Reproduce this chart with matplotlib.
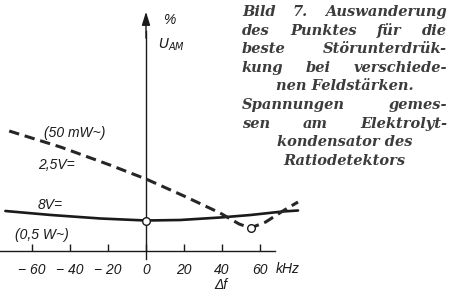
import matplotlib
matplotlib.use("Agg")
import matplotlib.pyplot as plt

# ---- data ----
solid_x = [-74, -50, -24, 0, 18, 39, 55, 72, 80]
solid_y = [4.0, 3.6, 3.25, 3.05, 3.1, 3.35, 3.6, 3.95, 4.05]
dash_x = [-72, -45, -19, 0, 20, 39, 49, 55, 63, 72, 80]
dash_y = [12.0, 10.4, 8.6, 7.2, 5.5, 3.8, 2.7, 2.3, 2.9, 4.0, 4.9]
mark_solid = (0, 3.05)
mark_dash = (55, 2.3)
xticks = [-60, -40, -20, 0, 20, 40, 60]
xticklabels = ["\u2212 60", "\u2212 40", "\u2212 20", "0", "20", "40", "60"]

caption_lines = [
    ("Bild 7. Auswanderung", "j"),
    ("des Punktes für die", "j"),
    ("beste Störunterdrük-", "j"),
    ("kung bei verschiede-", "j"),
    ("nen Feldstärken.", "c"),
    ("Spannungen gemes-", "j"),
    ("sen am Elektrolyt-", "j"),
    ("kondensator des", "c"),
    ("Ratiodetektors", "c"),
]

W, H = 449, 293
fig = plt.figure(figsize=(W / 100, H / 100), dpi=100)
ax = fig.add_axes([0, 0, 1, 1])
ax.set_xlim(-146 / 1.9, (W - 146) / 1.9)
ax.set_ylim((251 - H) / 10, 251 / 10)
ax.set_facecolor("white")
ink = "#1a1a1a"

def px(xp, yp):
    return ((xp - 146) / 1.9, (251 - yp) / 10)

# axes via spines
for s in ["top", "right"]:
    ax.spines[s].set_visible(False)
ax.spines["bottom"].set_position(("data", 0))
ax.spines["bottom"].set_bounds(-77, 68)
ax.spines["left"].set_position(("data", 0))
ax.spines["left"].set_bounds(-0.8, 22)
for s in ["bottom", "left"]:
    ax.spines[s].set_linewidth(1.0)
    ax.spines[s].set_color(ink)
ax.set_yticks([])
ax.set_xticks(xticks)
ax.set_xticklabels(xticklabels)
ax.tick_params(axis="x", direction="in", length=5, width=1.0, color=ink,
               pad=9, labelsize=10, labelcolor=ink)
for lab in ax.get_xticklabels():
    lab.set_fontstyle("italic")
    lab.set_family("Liberation Sans")

# arrow on vertical axis
ax.annotate("", xy=(0, 24.2), xytext=(0, 21),
            arrowprops=dict(arrowstyle="-|>,head_length=0.8,head_width=0.25",
                            color=ink, lw=1.0))

# curves
ax.plot(solid_x, solid_y, color=ink, lw=1.9, solid_capstyle="round", zorder=3)
ax.plot(dash_x, dash_y, color="#262626", lw=2.2, dashes=(3.4, 1.9), zorder=3)
ax.plot(*mark_solid, marker="o", ms=5.5, mfc="white", mec=ink, mew=1.0, zorder=5)
ax.plot(*mark_dash, marker="o", ms=5.5, mfc="white", mec=ink, mew=1.0, zorder=5)

lab_kw = dict(fontsize=10, style="italic", family="Liberation Sans", color=ink,
              va="center")
ax.text(*px(276, 269), "kHz", ha="left", **lab_kw)
ax.text(*px(214, 285), "\u0394f", ha="left", **lab_kw)
ax.text(*px(44, 133), "(50 mW~)", ha="left", **lab_kw)
ax.text(*px(38, 165), "2,5V=", ha="left", **lab_kw)
ax.text(*px(38, 205), "8V=", ha="left", **lab_kw)
ax.text(*px(15, 235), "(0,5 W~)", ha="left", **lab_kw)
ax.text(*px(163, 20), "%", ha="left", **lab_kw)
ax.text(*px(158, 45), "$U_{AM}$", ha="left", fontsize=10, color=ink,
        va="center", family="Liberation Sans")

# caption block (justified by words)
cap_kw = dict(fontsize=10.5, style="italic", weight="bold", family="DejaVu Serif",
              color="#3c3c3c", va="center")
left, right = 242, 447
y0, dy = 12, 18.6
fig.canvas.draw()
r = fig.canvas.get_renderer()
for i, (line, mode) in enumerate(caption_lines):
    yp = y0 + i * dy
    if mode == "c":
        ax.text(*px((left + right) / 2, yp), line, ha="center", **cap_kw)
        continue
    words = line.split(" ")
    texts = [ax.text(*px(left, yp), w, ha="left", **cap_kw) for w in words]
    widths = [t.get_window_extent(r).width for t in texts]
    gap = (right - left - sum(widths)) / max(len(words) - 1, 1)
    gap = max(gap, 4)
    xcur = left
    for t, w in zip(texts, widths):
        t.set_position(px(xcur, yp))
        xcur += w + gap

fig.savefig("out.png", dpi=100, facecolor="white")
